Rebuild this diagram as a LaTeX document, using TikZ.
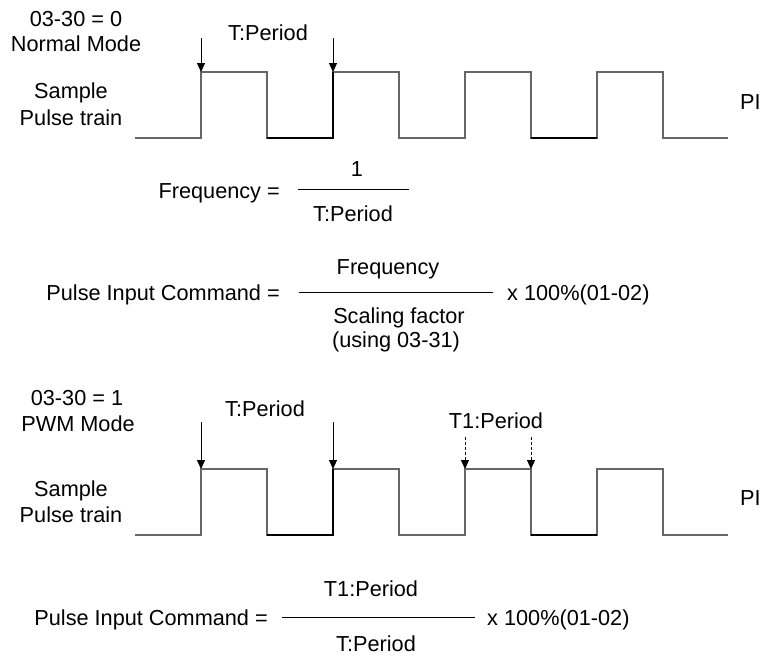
\documentclass[tikz,border=0pt]{standalone}
\usepackage{fontspec}
\setmainfont{Liberation Sans}
\usetikzlibrary{arrows.meta}
\begin{document}
\begin{tikzpicture}[x=1pt,y=-1pt,
  txt/.style={font=\fontsize{21.7}{26}\selectfont, inner sep=0pt, anchor=base},
  wave/.style={draw=black!60, line width=1.3pt, line join=miter},
  wavedark/.style={draw=black, line width=1.8pt},
  marker/.style={draw=black, line width=0.9pt, -{Triangle[length=9pt,width=8pt]}},
  markerdash/.style={marker, dash pattern=on 3pt off 2pt},
  fracline/.style={draw=black, line width=1pt}]
\useasboundingbox (0,0) rectangle (763,656);

% ---------- Normal mode ----------
\node[txt] (m0a) at (76,26) {03-30 = 0};
\node[txt] (m0b) at (76,51) {Normal Mode};
\node[txt] (s0a) at (71,98) {Sample};
\node[txt] (s0b) at (71,125) {Pulse train};
\node[txt] (tp0) at (268,40) {T:Period};
\node[txt,anchor=base west] (pi0) at (740,109) {PI};

\draw[wave] (135,138) -- (201,138) -- (201,72) -- (267,72) -- (267,138) -- (333,138) -- (333,72)
  -- (399,72) -- (399,138) -- (465,138) -- (465,72) -- (531,72) -- (531,138) -- (597,138)
  -- (597,72) -- (663,72) -- (663,138) -- (728,138);
\draw[wavedark] (267,138) -- (333,138) -- (333,72);
\draw[wavedark] (531,138) -- (597,138);

\coordinate (a0s) at (201,38); \coordinate (a0e) at (201,72);
\coordinate (a1s) at (333,38); \coordinate (a1e) at (333,72);
\draw[marker] (a0s) -- (a0e);
\draw[marker] (a1s) -- (a1e);

% Frequency formula
\node[txt,anchor=base east] (freq) at (280,198) {Frequency =};
\node[txt] (one) at (357,176) {1};
\node[txt] (tpf) at (353,221) {T:Period};
\coordinate (f0) at (298,189); \coordinate (f1) at (409,189);
\draw[fracline] (f0) -- (f1);

% Pulse input command 1
\node[txt,anchor=base east] (pic1) at (280,300) {Pulse Input Command =};
\node[txt] (pfreq) at (388,274) {Frequency};
\node[txt] (scal) at (399,323) {Scaling factor};
\node[txt] (using) at (396,347) {(using 03-31)};
\node[txt,anchor=base west] (pct1) at (507,300) {x 100\%(01-02)};
\coordinate (g0) at (299,292); \coordinate (g1) at (493,292);
\draw[fracline] (g0) -- (g1);

% ---------- PWM mode ----------
\node[txt] (m1a) at (77,405) {03-30 = 1};
\node[txt] (m1b) at (78,431) {PWM Mode};
\node[txt] (s1a) at (71,496) {Sample};
\node[txt] (s1b) at (71,522) {Pulse train};
\node[txt] (tp1) at (265,416) {T:Period};
\node[txt] (t1p) at (496,428) {T1:Period};
\node[txt,anchor=base west] (pi1) at (740,505) {PI};

\draw[wave] (135,535) -- (201,535) -- (201,469) -- (267,469) -- (267,535) -- (333,535) -- (333,469)
  -- (399,469) -- (399,535) -- (465,535) -- (465,469) -- (531,469) -- (531,535) -- (597,535)
  -- (597,469) -- (663,469) -- (663,535) -- (728,535);
\draw[wavedark] (267,535) -- (333,535) -- (333,469);
\draw[wavedark] (531,535) -- (597,535);

\coordinate (b0s) at (201,422); \coordinate (b0e) at (201,469);
\coordinate (b1s) at (333,422); \coordinate (b1e) at (333,469);
\coordinate (c0s) at (465,437); \coordinate (c0e) at (465,469);
\coordinate (c1s) at (531,437); \coordinate (c1e) at (531,469);
\draw[marker] (b0s) -- (b0e);
\draw[marker] (b1s) -- (b1e);
\draw[markerdash] (c0s) -- (c0e);
\draw[markerdash] (c1s) -- (c1e);

% Pulse input command 2
\node[txt,anchor=base east] (pic2) at (268,625) {Pulse Input Command =};
\node[txt] (num2) at (371,596) {T1:Period};
\node[txt] (den2) at (376,651) {T:Period};
\node[txt,anchor=base west] (pct2) at (487,625) {x 100\%(01-02)};
\coordinate (h0) at (282,617); \coordinate (h1) at (475,617);
\draw[fracline] (h0) -- (h1);
\end{tikzpicture}
\end{document}
